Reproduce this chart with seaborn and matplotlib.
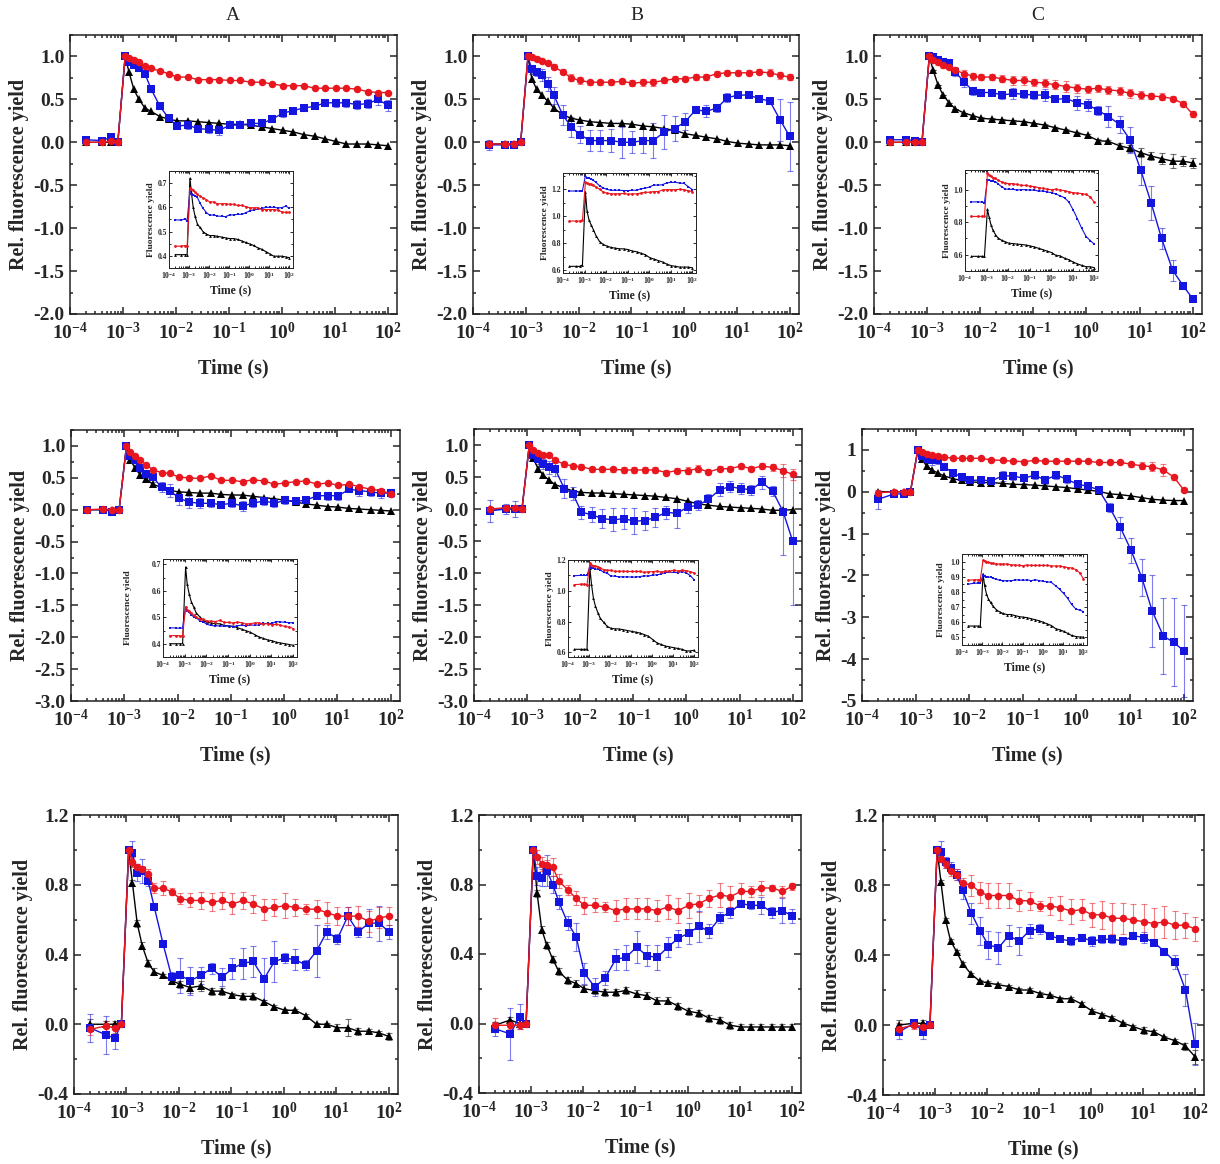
import numpy as np
import pandas as pd
import seaborn as sns
import matplotlib
matplotlib.use("Agg")
import matplotlib.pyplot as plt
from matplotlib.ticker import (FuncFormatter, MultipleLocator, AutoMinorLocator,
                               NullFormatter, FormatStrFormatter, LogLocator)

# ---- data ----
# shared time axis (s): 4 pre-flash points, then log-spaced after the flash
time_s = [2e-4, 4e-4, 6e-4, 8e-4,
          1.1e-3, 1.3e-3, 1.6e-3, 2e-3, 2.6e-3, 3.4e-3, 5e-3, 7.3e-3,
          0.0105, 0.0166, 0.026, 0.042, 0.066, 0.105, 0.166, 0.26, 0.42, 0.66,
          1.05, 1.66, 2.6, 4.2, 6.6, 10.5, 16.6, 26, 42, 66, 100]

# row 1
a1_red = [0.0, 0.0, 0.01, 0.0, 1.0, 0.98, 0.96, 0.93, 0.89, 0.86, 0.83, 0.80,
          0.76, 0.76, 0.73, 0.73, 0.73, 0.72, 0.72, 0.70, 0.70, 0.68,
          0.66, 0.66, 0.66, 0.63, 0.63, 0.63, 0.63, 0.62, 0.59, 0.58, 0.58]
a1_blue = [0.03, 0.02, 0.06, 0.0, 1.0, 0.93, 0.90, 0.86, 0.80, 0.62, 0.42, 0.28,
           0.19, 0.20, 0.16, 0.15, 0.14, 0.20, 0.20, 0.22, 0.22, 0.27,
           0.34, 0.37, 0.40, 0.42, 0.46, 0.46, 0.46, 0.44, 0.45, 0.50, 0.43]
a1_black = [0.0, 0.0, 0.0, 0.0, 1.0, 0.82, 0.62, 0.50, 0.40, 0.36, 0.30, 0.27,
            0.25, 0.25, 0.24, 0.23, 0.22, 0.21, 0.21, 0.20, 0.18, 0.16,
            0.14, 0.12, 0.09, 0.07, 0.04, 0.01, -0.02, -0.02, -0.02, -0.03, -0.04]
a1_blue_err = [0.03, 0.02, 0.02, 0.0, 0.0, 0.02, 0.02, 0.03, 0.02, 0.03, 0.03, 0.02,
               0.03, 0.04, 0.03, 0.04, 0.06, 0.03, 0.03, 0.02, 0.03, 0.03,
               0.04, 0.03, 0.03, 0.03, 0.04, 0.05, 0.05, 0.05, 0.05, 0.06, 0.06]

b1_red = [-0.02, -0.02, -0.02, 0.0, 1.0, 0.99, 0.97, 0.95, 0.92, 0.88, 0.82, 0.75,
          0.72, 0.70, 0.70, 0.70, 0.71, 0.69, 0.70, 0.70, 0.72, 0.74,
          0.74, 0.76, 0.76, 0.80, 0.81, 0.81, 0.81, 0.82, 0.81, 0.78, 0.76]
b1_blue = [-0.03, -0.03, -0.03, 0.0, 1.0, 0.85, 0.82, 0.78, 0.68, 0.55, 0.32, 0.18,
           0.09, 0.02, 0.02, 0.02, 0.0, 0.0, 0.02, 0.02, 0.12, 0.16,
           0.24, 0.38, 0.36, 0.40, 0.52, 0.55, 0.55, 0.51, 0.48, 0.26, 0.07]
b1_black = [-0.02, -0.02, -0.02, 0.0, 1.0, 0.74, 0.62, 0.55, 0.48, 0.40, 0.32, 0.28,
            0.26, 0.24, 0.23, 0.22, 0.22, 0.21, 0.19, 0.18, 0.16, 0.14,
            0.10, 0.08, 0.06, 0.04, 0.01, -0.01, -0.02, -0.03, -0.03, -0.03, -0.04]
b1_red_err = [0.02, 0.02, 0.02, 0.0, 0.0, 0.02, 0.02, 0.02, 0.02, 0.03, 0.03, 0.04,
              0.04, 0.03, 0.03, 0.03, 0.03, 0.03, 0.04, 0.04, 0.03, 0.03,
              0.03, 0.03, 0.03, 0.03, 0.03, 0.03, 0.03, 0.03, 0.04, 0.04, 0.04]
b1_blue_err = [0.06, 0.03, 0.03, 0.0, 0.0, 0.05, 0.05, 0.07, 0.08, 0.10, 0.12, 0.12,
               0.10, 0.12, 0.12, 0.13, 0.18, 0.13, 0.14, 0.20, 0.20, 0.15,
               0.10, 0.04, 0.07, 0.05, 0.05, 0.03, 0.03, 0.03, 0.03, 0.25, 0.40]

c1_red = [0.0, 0.0, 0.0, 0.0, 1.0, 0.96, 0.93, 0.90, 0.88, 0.84, 0.80, 0.77,
          0.76, 0.76, 0.74, 0.72, 0.72, 0.70, 0.69, 0.67, 0.65, 0.63,
          0.62, 0.63, 0.61, 0.60, 0.57, 0.55, 0.54, 0.53, 0.51, 0.45, 0.33]
c1_blue = [0.03, 0.03, 0.02, 0.0, 1.0, 0.99, 0.96, 0.94, 0.92, 0.82, 0.70, 0.60,
           0.58, 0.58, 0.55, 0.57, 0.56, 0.55, 0.55, 0.50, 0.51, 0.46,
           0.44, 0.37, 0.30, 0.21, 0.03, -0.32, -0.71, -1.12, -1.49, -1.67, -1.82]
c1_black = [0.0, 0.0, 0.0, 0.0, 1.0, 0.84, 0.67, 0.55, 0.46, 0.39, 0.34, 0.31,
            0.28, 0.27, 0.26, 0.25, 0.24, 0.22, 0.20, 0.17, 0.14, 0.11,
            0.08, 0.02, 0.01, -0.04, -0.07, -0.12, -0.16, -0.19, -0.22, -0.22, -0.24]
c1_red_err = [0.02, 0.02, 0.02, 0.0, 0.0, 0.03, 0.03, 0.03, 0.03, 0.04, 0.04, 0.04,
              0.04, 0.04, 0.04, 0.05, 0.05, 0.04, 0.05, 0.05, 0.06, 0.05,
              0.04, 0.04, 0.05, 0.05, 0.05, 0.05, 0.04, 0.04, 0.03, 0.03, 0.03]
c1_blue_err = [0.02, 0.02, 0.02, 0.0, 0.0, 0.02, 0.03, 0.04, 0.04, 0.05, 0.05, 0.05,
               0.04, 0.03, 0.04, 0.06, 0.04, 0.05, 0.07, 0.02, 0.04, 0.08,
               0.07, 0.05, 0.12, 0.10, 0.15, 0.18, 0.20, 0.12, 0.12, 0.04, 0.03]
c1_black_err = [0.0, 0.0, 0.0, 0.0, 0.0, 0.0, 0.0, 0.0, 0.0, 0.0, 0.0, 0.0,
                0.01, 0.01, 0.01, 0.01, 0.01, 0.01, 0.01, 0.01, 0.01, 0.01,
                0.02, 0.02, 0.02, 0.03, 0.04, 0.05, 0.05, 0.06, 0.08, 0.06, 0.06]

# row 2
a2_red = [0.0, 0.01, 0.0, 0.0, 1.0, 0.90, 0.84, 0.78, 0.70, 0.63, 0.58, 0.57,
          0.51, 0.50, 0.49, 0.53, 0.46, 0.46, 0.44, 0.47, 0.45, 0.40,
          0.42, 0.44, 0.45, 0.40, 0.42, 0.38, 0.40, 0.36, 0.32, 0.30, 0.25]
a2_blue = [0.0, 0.0, -0.03, 0.0, 1.0, 0.85, 0.78, 0.65, 0.56, 0.52, 0.35, 0.30,
           0.18, 0.12, 0.10, 0.10, 0.08, 0.10, 0.06, 0.10, 0.14, 0.10,
           0.15, 0.13, 0.15, 0.22, 0.22, 0.22, 0.32, 0.30, 0.28, 0.26, 0.26]
a2_black = [0.0, 0.0, 0.0, 0.0, 1.0, 0.78, 0.65, 0.55, 0.48, 0.40, 0.35, 0.30,
            0.28, 0.27, 0.26, 0.26, 0.24, 0.23, 0.23, 0.21, 0.19, 0.17,
            0.15, 0.12, 0.09, 0.07, 0.05, 0.04, 0.02, 0.01, 0.0, -0.01, -0.02]
a2_blue_err = [0.02, 0.05, 0.05, 0.0, 0.0, 0.05, 0.05, 0.06, 0.06, 0.08, 0.08, 0.10,
               0.10, 0.10, 0.08, 0.06, 0.06, 0.06, 0.08, 0.06, 0.06, 0.06,
               0.06, 0.05, 0.05, 0.05, 0.06, 0.06, 0.05, 0.08, 0.06, 0.07, 0.06]

b2_red = [0.0, 0.02, 0.02, 0.0, 1.0, 0.92, 0.88, 0.85, 0.84, 0.76, 0.70, 0.67,
          0.66, 0.62, 0.62, 0.62, 0.61, 0.61, 0.61, 0.61, 0.57, 0.60,
          0.60, 0.63, 0.58, 0.63, 0.63, 0.67, 0.63, 0.67, 0.65, 0.60, 0.54]
b2_blue = [-0.03, 0.0, 0.0, 0.0, 1.0, 0.85, 0.78, 0.70, 0.65, 0.62, 0.32, 0.24,
           -0.05, -0.09, -0.15, -0.17, -0.15, -0.19, -0.18, -0.13, -0.05, -0.07,
           0.03, 0.06, 0.15, 0.30, 0.35, 0.32, 0.30, 0.42, 0.28, -0.04, -0.50]
b2_black = [0.0, 0.0, 0.0, 0.0, 1.0, 0.80, 0.63, 0.53, 0.45, 0.38, 0.33, 0.28,
            0.26, 0.25, 0.25, 0.24, 0.23, 0.22, 0.21, 0.20, 0.18, 0.16,
            0.12, 0.08, 0.06, 0.04, 0.03, 0.02, 0.01, 0.0, -0.02, -0.02, -0.01]
b2_red_err = [0.03, 0.03, 0.03, 0.0, 0.0, 0.04, 0.03, 0.03, 0.03, 0.03, 0.04, 0.04,
              0.04, 0.04, 0.04, 0.04, 0.04, 0.04, 0.04, 0.04, 0.04, 0.04,
              0.05, 0.05, 0.04, 0.04, 0.04, 0.04, 0.04, 0.05, 0.05, 0.10, 0.08]
b2_blue_err = [0.17, 0.08, 0.13, 0.0, 0.0, 0.05, 0.07, 0.08, 0.10, 0.10, 0.15, 0.10,
               0.10, 0.12, 0.15, 0.18, 0.16, 0.20, 0.15, 0.15, 0.10, 0.22,
               0.10, 0.08, 0.08, 0.10, 0.08, 0.08, 0.08, 0.10, 0.08, 0.68, 1.00]

c2_red = [-0.02, 0.0, 0.0, 0.0, 1.0, 0.95, 0.90, 0.88, 0.86, 0.83, 0.80, 0.80,
          0.80, 0.80, 0.76, 0.75, 0.73, 0.72, 0.75, 0.73, 0.73, 0.73,
          0.73, 0.73, 0.70, 0.70, 0.70, 0.66, 0.62, 0.60, 0.52, 0.35, 0.05]
c2_blue = [-0.18, -0.05, -0.05, 0.0, 1.0, 0.85, 0.78, 0.75, 0.75, 0.60, 0.45, 0.35,
           0.27, 0.28, 0.26, 0.38, 0.38, 0.32, 0.40, 0.28, 0.40, 0.30,
           0.18, 0.13, 0.05, -0.38, -0.85, -1.40, -2.05, -2.85, -3.45, -3.60, -3.80]
c2_black = [0.0, 0.0, 0.0, 0.0, 1.0, 0.78, 0.62, 0.52, 0.45, 0.38, 0.31, 0.27,
            0.24, 0.22, 0.22, 0.20, 0.18, 0.17, 0.16, 0.14, 0.12, 0.10,
            0.07, 0.04, 0.01, -0.05, -0.07, -0.10, -0.14, -0.18, -0.20, -0.21, -0.21]
c2_red_err = [0.02, 0.02, 0.02, 0.0, 0.0, 0.03, 0.03, 0.03, 0.03, 0.03, 0.03, 0.03,
              0.03, 0.03, 0.03, 0.03, 0.03, 0.03, 0.03, 0.03, 0.03, 0.03,
              0.03, 0.03, 0.03, 0.04, 0.04, 0.06, 0.08, 0.10, 0.15, 0.06, 0.05]
c2_blue_err = [0.22, 0.06, 0.06, 0.0, 0.0, 0.15, 0.10, 0.10, 0.08, 0.08, 0.08, 0.08,
               0.08, 0.06, 0.06, 0.12, 0.10, 0.10, 0.10, 0.10, 0.10, 0.08,
               0.08, 0.06, 0.05, 0.10, 0.25, 0.30, 0.45, 0.85, 0.90, 1.05, 1.10]

# row 3
a3_red = [-0.03, -0.01, -0.02, 0.0, 1.0, 0.93, 0.90, 0.89, 0.86, 0.78, 0.78, 0.76,
          0.72, 0.71, 0.71, 0.70, 0.71, 0.69, 0.71, 0.69, 0.66, 0.67,
          0.68, 0.67, 0.66, 0.66, 0.64, 0.62, 0.62, 0.62, 0.59, 0.61, 0.62]
a3_blue = [-0.02, -0.06, -0.08, 0.0, 1.0, 0.98, 0.87, 0.88, 0.82, 0.67, 0.46, 0.27,
           0.28, 0.25, 0.28, 0.32, 0.27, 0.32, 0.35, 0.36, 0.26, 0.36,
           0.38, 0.37, 0.34, 0.42, 0.53, 0.49, 0.62, 0.53, 0.58, 0.58, 0.53]
a3_black = [0.0, 0.0, 0.0, 0.0, 1.0, 0.81, 0.58, 0.45, 0.35, 0.30, 0.28, 0.25,
            0.23, 0.21, 0.22, 0.19, 0.19, 0.17, 0.16, 0.16, 0.13, 0.10,
            0.08, 0.08, 0.05, 0.0, 0.0, -0.02, -0.02, -0.04, -0.04, -0.05, -0.07]
a3_red_err = [0.03, 0.03, 0.03, 0.0, 0.0, 0.03, 0.02, 0.02, 0.03, 0.03, 0.04, 0.02,
              0.03, 0.04, 0.05, 0.05, 0.05, 0.06, 0.05, 0.05, 0.06, 0.05,
              0.07, 0.05, 0.03, 0.05, 0.06, 0.05, 0.05, 0.06, 0.06, 0.06, 0.05]
a3_blue_err = [0.08, 0.11, 0.06, 0.0, 0.0, 0.07, 0.05, 0.07, 0.03, 0.0, 0.0, 0.03,
               0.10, 0.08, 0.05, 0.03, 0.05, 0.06, 0.09, 0.09, 0.12, 0.12,
               0.03, 0.06, 0.03, 0.15, 0.04, 0.03, 0.05, 0.03, 0.08, 0.10, 0.04]
a3_black_err = [0.03, 0.02, 0.02, 0.0, 0.0, 0.02, 0.02, 0.02, 0.02, 0.02, 0.01, 0.02,
                0.02, 0.03, 0.03, 0.02, 0.02, 0.01, 0.02, 0.02, 0.01, 0.01,
                0.01, 0.01, 0.01, 0.01, 0.01, 0.02, 0.05, 0.02, 0.01, 0.01, 0.02]

b3_red = [-0.01, -0.01, -0.01, 0.0, 1.0, 0.96, 0.92, 0.91, 0.90, 0.82, 0.77, 0.72,
          0.68, 0.68, 0.67, 0.65, 0.66, 0.66, 0.66, 0.65, 0.67, 0.65,
          0.68, 0.69, 0.72, 0.74, 0.73, 0.76, 0.76, 0.78, 0.78, 0.76, 0.79]
b3_blue = [-0.03, -0.06, 0.04, 0.0, 1.0, 0.85, 0.84, 0.88, 0.80, 0.70, 0.58, 0.50,
           0.29, 0.21, 0.26, 0.37, 0.38, 0.44, 0.39, 0.38, 0.44, 0.49,
           0.52, 0.56, 0.53, 0.61, 0.64, 0.69, 0.68, 0.68, 0.64, 0.65, 0.62]
b3_black = [-0.01, 0.02, 0.0, 0.0, 1.0, 0.75, 0.54, 0.45, 0.37, 0.30, 0.25, 0.23,
            0.20, 0.19, 0.18, 0.18, 0.19, 0.17, 0.16, 0.13, 0.13, 0.10,
            0.07, 0.06, 0.03, 0.02, -0.01, -0.02, -0.02, -0.02, -0.02, -0.02, -0.02]
b3_red_err = [0.04, 0.02, 0.02, 0.0, 0.0, 0.04, 0.04, 0.03, 0.05, 0.04, 0.03, 0.04,
              0.05, 0.04, 0.03, 0.06, 0.06, 0.06, 0.06, 0.06, 0.07, 0.07,
              0.07, 0.05, 0.05, 0.07, 0.06, 0.05, 0.03, 0.04, 0.02, 0.03, 0.02]
b3_blue_err = [0.04, 0.15, 0.07, 0.0, 0.0, 0.05, 0.05, 0.09, 0.05, 0.04, 0.04, 0.08,
               0.06, 0.05, 0.04, 0.06, 0.07, 0.09, 0.06, 0.07, 0.06, 0.05,
               0.06, 0.09, 0.04, 0.03, 0.03, 0.02, 0.02, 0.05, 0.03, 0.07, 0.04]
b3_black_err = [0.02, 0.02, 0.02, 0.0, 0.0, 0.02, 0.02, 0.02, 0.02, 0.02, 0.02, 0.02,
                0.02, 0.02, 0.02, 0.02, 0.02, 0.02, 0.02, 0.02, 0.02, 0.02,
                0.02, 0.02, 0.02, 0.02, 0.02, 0.02, 0.02, 0.02, 0.02, 0.02, 0.02]

c3_red = [-0.02, 0.0, -0.01, 0.0, 1.0, 0.95, 0.92, 0.88, 0.86, 0.81, 0.80, 0.76,
          0.74, 0.74, 0.74, 0.71, 0.71, 0.68, 0.68, 0.67, 0.65, 0.66,
          0.63, 0.63, 0.61, 0.61, 0.60, 0.59, 0.58, 0.59, 0.57, 0.57, 0.55]
c3_blue = [-0.04, 0.01, -0.04, 0.0, 1.0, 0.99, 0.93, 0.90, 0.86, 0.77, 0.64, 0.54,
           0.46, 0.44, 0.51, 0.48, 0.54, 0.55, 0.51, 0.49, 0.48, 0.50,
           0.48, 0.49, 0.49, 0.48, 0.51, 0.50, 0.47, 0.42, 0.36, 0.20, -0.11]
c3_black = [0.0, 0.01, 0.01, 0.0, 1.0, 0.82, 0.60, 0.48, 0.42, 0.35, 0.29, 0.25,
            0.24, 0.23, 0.22, 0.20, 0.20, 0.18, 0.17, 0.15, 0.15, 0.12,
            0.08, 0.06, 0.04, 0.01, -0.01, -0.03, -0.04, -0.07, -0.09, -0.12, -0.18]
c3_red_err = [0.03, 0.02, 0.02, 0.0, 0.0, 0.02, 0.02, 0.03, 0.03, 0.03, 0.06, 0.06,
              0.07, 0.07, 0.07, 0.06, 0.05, 0.03, 0.05, 0.07, 0.07, 0.06,
              0.07, 0.08, 0.09, 0.09, 0.09, 0.10, 0.09, 0.09, 0.08, 0.07, 0.07]
c3_blue_err = [0.04, 0.02, 0.04, 0.0, 0.0, 0.06, 0.03, 0.03, 0.03, 0.05, 0.06, 0.08,
               0.08, 0.09, 0.06, 0.08, 0.04, 0.03, 0.02, 0.01, 0.02, 0.02,
               0.03, 0.02, 0.02, 0.02, 0.02, 0.03, 0.01, 0.02, 0.04, 0.09, 0.12]
c3_black_err = [0.03, 0.02, 0.02, 0.0, 0.0, 0.01, 0.01, 0.01, 0.01, 0.01, 0.01, 0.01,
                0.01, 0.01, 0.01, 0.01, 0.01, 0.01, 0.01, 0.01, 0.01, 0.01,
                0.01, 0.01, 0.01, 0.01, 0.01, 0.02, 0.01, 0.01, 0.01, 0.02, 0.04]

# inset (absolute yield): dark level and flash peak per series (black, blue, red)
a1_inset_dark = [0.405, 0.545, 0.44]
a1_inset_peak = [0.72, 0.665, 0.68]
b1_inset_dark = [0.64, 1.19, 0.97]
b1_inset_peak = [1.18, 1.30, 1.25]
c1_inset_dark = [0.59, 0.92, 0.835]
c1_inset_peak = [0.88, 1.06, 1.10]
a2_inset_dark = [0.40, 0.46, 0.43]
a2_inset_peak = [0.69, 0.535, 0.54]
b2_inset_dark = [0.62, 1.10, 1.04]
b2_inset_peak = [1.15, 1.16, 1.18]
c2_inset_dark = [0.575, 0.86, 0.88]
c2_inset_peak = [0.92, 0.91, 1.01]

order = ["black", "blue", "red"]
colors = {"black": "#000000", "blue": "#1515e0", "red": "#e8161e"}
marks = {"black": "^", "blue": "s", "red": "o"}

FONT = "Liberation Serif"
sns.set_style("ticks")
plt.rcParams["font.family"] = [FONT, "DejaVu Serif"]
plt.rcParams["font.weight"] = "bold"
plt.rcParams["axes.unicode_minus"] = False
plt.rcParams["mathtext.fontset"] = "custom"
plt.rcParams["mathtext.rm"] = FONT + ":bold"
plt.rcParams["mathtext.bf"] = FONT + ":bold"
plt.rcParams["mathtext.it"] = FONT + ":bold:italic"

W, H = 1220, 1164
fig = plt.figure(figsize=(W / 100, H / 100), dpi=100)


def rect(l, t, r, b):
    return [l / W, 1 - b / H, (r - l) / W, (b - t) / H]


def pow10(x, pos):
    return r"$10^{%d}$" % int(round(np.log10(x)))


def style_axes(ax, fs, big=True):
    ax.set_xscale("log")
    ax.set_xlim(1e-4, 1.5e2)
    ax.xaxis.set_major_locator(LogLocator(base=10, numticks=12))
    ax.xaxis.set_minor_locator(LogLocator(base=10, subs=np.arange(2, 10), numticks=12))
    ax.xaxis.set_major_formatter(FuncFormatter(pow10))
    ax.xaxis.set_minor_formatter(NullFormatter())
    lw = 1.1 if big else 0.7
    ax.tick_params(which="both", direction="in", top=True, right=True,
                   labelsize=fs, width=lw)
    ax.tick_params(axis="x", pad=6 if big else 1.5)
    ax.tick_params(axis="y", pad=4 if big else 1.5)
    ax.tick_params(which="major", length=5 if big else 2.5)
    ax.tick_params(which="minor", length=2.5 if big else 1.3)
    for s in ax.spines.values():
        s.set_linewidth(lw)
        s.set_color("#222222")
    for lab in ax.get_yticklabels() + ax.get_xticklabels():
        lab.set_fontweight("bold")


def draw(ax, series, errs, ms, lw):
    frames = []
    for name, y in zip(order, series):
        frames.append(pd.DataFrame({"time": time_s, "value": y, "series": name}))
    df = pd.concat(frames, ignore_index=True)
    if errs is not None:
        for name, y, e in zip(order, series, errs):
            if e is None:
                continue
            ax.errorbar(time_s, y, yerr=e, fmt="none", ecolor=colors[name],
                        alpha=0.55, elinewidth=0.8, capsize=2.2, capthick=0.8, zorder=1)
    sns.lineplot(data=df, x="time", y="value", hue="series", style="series",
                 hue_order=order, style_order=order, palette=colors, markers=marks,
                 dashes=False, estimator=None, sort=False, lw=lw, markersize=ms,
                 markeredgewidth=0, legend=False, ax=ax)


panels = [
    # key, axes box, data, errors, ylim, major, minor, fmt, inset box, inset dark/peak, inset ylim, inset step, inset ylabel pad
    ("a1", (70, 35, 397, 314), (a1_black, a1_blue, a1_red), (None, a1_blue_err, None),
     (-2.0, 1.25), 0.5, 2, "%.1f", (169, 171, 293, 268), (a1_inset_dark, a1_inset_peak), (0.35, 0.75), 0.1, 2),
    ("b1", (473, 35, 799, 314), (b1_black, b1_blue, b1_red), (None, b1_blue_err, b1_red_err),
     (-2.0, 1.25), 0.5, 2, "%.1f", (563, 173, 696, 273), (b1_inset_dark, b1_inset_peak), (0.58, 1.32), 0.2, 2),
    ("c1", (874, 35, 1202, 314), (c1_black, c1_blue, c1_red), (c1_black_err, c1_blue_err, c1_red_err),
     (-2.0, 1.25), 0.5, 2, "%.1f", (965, 170, 1098, 271), (c1_inset_dark, c1_inset_peak), (0.5, 1.12), 0.2, 2),
    ("a2", (71, 430, 400, 701), (a2_black, a2_blue, a2_red), (None, a2_blue_err, None),
     (-3.0, 1.25), 0.5, 2, "%.1f", (163, 559, 297, 657), (a2_inset_dark, a2_inset_peak), (0.35, 0.72), 0.1, 14),
    ("b2", (474, 429, 802, 701), (b2_black, b2_blue, b2_red), (None, b2_blue_err, b2_red_err),
     (-3.0, 1.25), 0.5, 2, "%.1f", (568, 560, 698, 657), (b2_inset_dark, b2_inset_peak), (0.57, 1.2), 0.2, 2),
    ("c2", (862, 429, 1193, 701), (c2_black, c2_blue, c2_red), (None, c2_blue_err, c2_red_err),
     (-5.0, 1.5), 1.0, 2, "%d", (962, 554, 1087, 645), (c2_inset_dark, c2_inset_peak), (0.45, 1.05), 0.1, 4),
    ("a3", (74, 815, 398, 1094), (a3_black, a3_blue, a3_red), (a3_black_err, a3_blue_err, a3_red_err),
     (-0.4, 1.2), 0.4, 2, "%.1f", None, None, None, None, None),
    ("b3", (479, 815, 801, 1093), (b3_black, b3_blue, b3_red), (b3_black_err, b3_blue_err, b3_red_err),
     (-0.4, 1.2), 0.4, 2, "%.1f", None, None, None, None, None),
    ("c3", (883, 815, 1204, 1095), (c3_black, c3_blue, c3_red), (c3_black_err, c3_blue_err, c3_red_err),
     (-0.4, 1.2), 0.4, 2, "%.1f", None, None, None, None, None),
]

for (key, box, series, errs, ylim, major, minor, fmt,
     ibox, ilev, iylim, istep, ipad) in panels:
    ax = fig.add_axes(rect(*box))
    draw(ax, series, errs, ms=5.4, lw=1.0)
    style_axes(ax, 14)
    ax.set_ylim(*ylim)
    ax.yaxis.set_major_locator(MultipleLocator(major))
    ax.yaxis.set_minor_locator(AutoMinorLocator(minor))
    ax.yaxis.set_major_formatter(FormatStrFormatter(fmt))
    ax.set_xlabel("Time (s)", fontsize=14.5, fontweight="bold", labelpad=11)
    ax.set_ylabel("Rel. fluorescence yield", fontsize=14.5, fontweight="bold", labelpad=3)

    if ibox is not None:
        axi = fig.add_axes(rect(*ibox))
        dark, peak = ilev
        absolute = [[d + v * (p - d) for v in s] for s, d, p in zip(series, dark, peak)]
        draw(axi, absolute, None, ms=2.0, lw=0.8)
        style_axes(axi, 5.5, big=False)
        axi.set_ylim(*iylim)
        axi.yaxis.set_major_locator(MultipleLocator(istep))
        axi.yaxis.set_minor_locator(AutoMinorLocator(2))
        axi.yaxis.set_major_formatter(FormatStrFormatter("%.1f"))
        axi.set_xlabel("Time (s)", fontsize=8.5, fontweight="bold", labelpad=2)
        axi.set_ylabel("Fluorescence yield", fontsize=6.8, fontweight="bold", labelpad=ipad)

for letter, xc in zip(["A", "B", "C"], [233, 637, 1038]):
    fig.text(xc / W, 1 - 15 / H, letter, ha="center", va="center",
             fontsize=14, fontweight="normal")

fig.savefig("out.png", dpi=100, facecolor="white")
